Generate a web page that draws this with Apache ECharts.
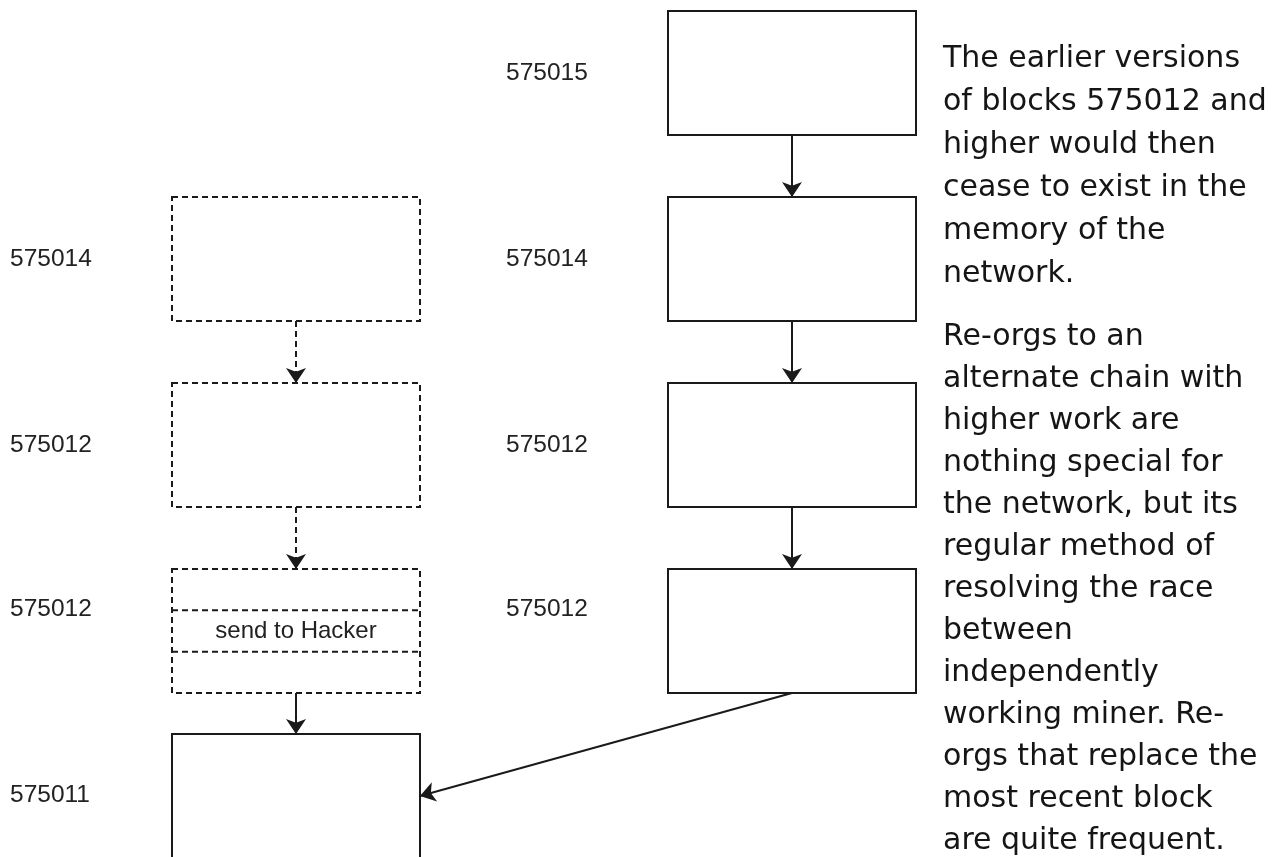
<!DOCTYPE html>
<html>
<head>
<meta charset="utf-8">
<title>Re-org diagram</title>
<script src="https://cdn.jsdelivr.net/npm/echarts@6/dist/echarts.min.js"></script>
<style>
  html, body { margin: 0; padding: 0; background: #fff; }
  #chart { width: 1274px; height: 857px; }
</style>
</head>
<body>
<div id="chart"></div>
<script>
// block heights in each chain, top to bottom
const leftHeights = ["575014", "575012", "575012", "575011"];
const rightHeights = ["575015", "575014", "575012", "575012"];
// row of each block (0 = top row)
const leftRows = [1, 2, 3, 3.887];
const rightRows = [0, 1, 2, 3];
const leftLabelRows = [1, 2, 2.882, 3.882];
const rightLabelRows = [0, 1, 2, 2.882];
// dashed = blocks that drop out after the re-org
const leftOrphaned = [true, true, true, false];
const leftNotes = ["", "", "send to Hacker", ""];
const noteText = [
  "The earlier versions\nof blocks 575012 and\nhigher would then\ncease to exist in the\nmemory of the\nnetwork.",
  "Re-orgs to an\nalternate chain with\nhigher work are\nnothing special for\nthe network, but its\nregular method of\nresolving the race\nbetween\nindependently\nworking miner. Re-\norgs that replace the\nmost recent block\nare quite frequent."
];

const BOX_W = 0.5;
const BOX_H = 2 / 3;
const LABEL_DX = -0.5766;
const DASH = [6, 4];
const INK = "#1a1a1a";

let boxData = [];
leftHeights.forEach(function (h, i) {
  boxData.push({ name: leftNotes[i], value: [0, leftRows[i], leftOrphaned[i] ? 1 : 0] });
});
rightHeights.forEach(function (h, i) {
  boxData.push({ name: "", value: [1, rightRows[i], 0] });
});

let labelData = [];
leftHeights.forEach(function (h, i) {
  labelData.push({ name: h, value: [0 + LABEL_DX, leftLabelRows[i]] });
});
rightHeights.forEach(function (h, i) {
  labelData.push({ name: h, value: [1 + LABEL_DX, rightLabelRows[i]] });
});

let arrowData = [];
for (let i = 0; i < leftRows.length - 1; i++) {
  let dashed = leftOrphaned[i] && leftOrphaned[i + 1];
  arrowData.push({
    coords: [[0, leftRows[i] + BOX_H / 2], [0, leftRows[i + 1] - BOX_H / 2]],
    lineStyle: { type: dashed ? DASH : "solid" }
  });
}
for (let i = 0; i < rightRows.length - 1; i++) {
  arrowData.push({
    coords: [[1, rightRows[i] + BOX_H / 2], [1, rightRows[i + 1] - BOX_H / 2]]
  });
}
// last block of the new chain points back to 575011
arrowData.push({
  coords: [[1, rightRows[3] + BOX_H / 2], [BOX_W / 2, leftRows[3]]]
});

let chart = echarts.init(document.getElementById("chart"));
chart.setOption({
  animation: false,
  backgroundColor: "#fff",
  grid: { left: 0, right: 0, top: 0, bottom: 0 },
  xAxis: { type: "value", min: -296 / 496, max: (1274 - 296) / 496, show: false },
  yAxis: { type: "value", inverse: true, min: -73 / 186, max: (857 - 73) / 186, show: false },
  graphic: [
    {
      type: "text",
      left: 943,
      top: 38,
      style: {
        text: noteText[0],
        fontFamily: "DejaVu Sans",
        fontSize: 30,
        lineHeight: 43,
        fill: "#151515"
      }
    },
    {
      type: "text",
      left: 943,
      top: 316,
      style: {
        text: noteText[1],
        fontFamily: "DejaVu Sans",
        fontSize: 30,
        lineHeight: 42,
        fill: "#151515"
      }
    }
  ],
  series: [
    {
      name: "blocks",
      type: "custom",
      coordinateSystem: "cartesian2d",
      data: boxData,
      z: 2,
      renderItem: function (params, api) {
        let c = api.value(0), r = api.value(1), dashed = api.value(2);
        let p = api.coord([c, r]);
        let sz = api.size([BOX_W, BOX_H]);
        let w = Math.abs(sz[0]), h = Math.abs(sz[1]);
        let x = p[0] - w / 2, y = p[1] - h / 2;
        let stroke = { stroke: INK, lineWidth: 2, lineDash: dashed ? DASH : null };
        let children = [{
          type: "rect",
          shape: { x: x, y: y, width: w, height: h },
          style: Object.assign({ fill: "#fff" }, stroke)
        }];
        let note = boxData[params.dataIndex].name;
        if (note) {
          [1, 2].forEach(function (k) {
            children.push({
              type: "line",
              shape: { x1: x, y1: y + h * k / 3, x2: x + w, y2: y + h * k / 3 },
              style: stroke
            });
          });
          children.push({
            type: "text",
            style: {
              text: note, x: p[0], y: p[1],
              textAlign: "center", textVerticalAlign: "middle",
              fontFamily: "Liberation Sans", fontSize: 24, fill: "#222"
            }
          });
        }
        return { type: "group", children: children };
      }
    },
    {
      name: "heights",
      type: "custom",
      coordinateSystem: "cartesian2d",
      data: labelData,
      renderItem: function (params, api) {
        let p = api.coord([api.value(0), api.value(1)]);
        return {
          type: "text",
          style: {
            text: labelData[params.dataIndex].name, x: p[0], y: p[1],
            textAlign: "left", textVerticalAlign: "middle",
            fontFamily: "Liberation Sans", fontSize: 24.5, fill: "#222"
          }
        };
      }
    },
    {
      name: "links",
      type: "lines",
      coordinateSystem: "cartesian2d",
      z: 3,
      symbol: ["none", "arrow"],
      symbolSize: [15, 15],
      lineStyle: { color: INK, width: 2, opacity: 1, curveness: 0 },
      data: arrowData
    }
  ]
});
</script>
</body>
</html>
